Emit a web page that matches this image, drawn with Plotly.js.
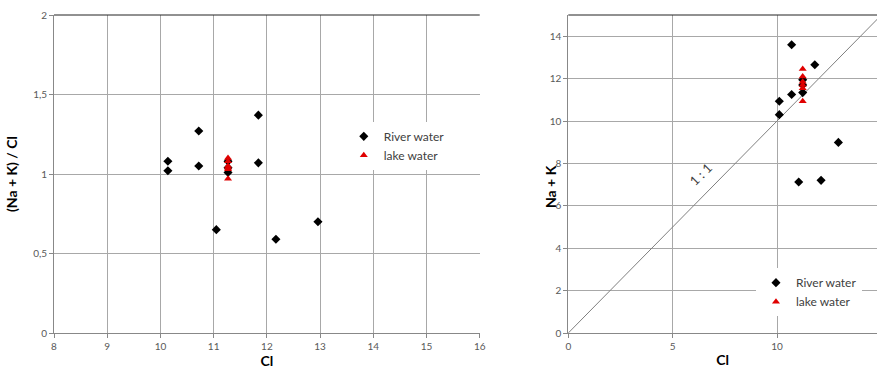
<!DOCTYPE html>
<html>
<head>
<meta charset="utf-8">
<script src="https://cdn.plot.ly/plotly-3.0.1.min.js"></script>
<style>html,body{margin:0;padding:0;background:#fff;}#chart{width:877px;height:370px;}</style>
</head>
<body>
<div id="chart"></div>
<script>
// Left panel: (Na+K)/Cl vs Cl
const leftRiverCl    = [10.14, 10.14, 10.72, 10.72, 11.84, 11.84, 11.05, 12.17, 12.96, 11.27, 11.27, 11.27];
const leftRiverRatio = [1.08, 1.02, 1.27, 1.05, 1.37, 1.07, 0.65, 0.59, 0.70, 1.01, 1.04, 1.08];
const leftLakeCl     = [11.27, 11.27, 11.27, 11.27, 11.27, 11.27];
const leftLakeRatio  = [0.97, 1.03, 1.04, 1.05, 1.08, 1.10];

// Right panel: Na+K vs Cl
const rightRiverCl   = [10.70, 11.81, 10.11, 10.11, 10.70, 11.23, 11.23, 11.23, 12.94, 11.04, 12.11];
const rightRiverNaK  = [13.60, 12.65, 10.93, 10.30, 11.25, 11.34, 11.70, 11.94, 8.99, 7.12, 7.20];
const rightLakeCl    = [11.23, 11.23, 11.23, 11.23, 11.23, 11.23];
const rightLakeNaK   = [10.93, 11.55, 11.70, 11.85, 12.10, 12.45];

// 1:1 reference line
const oneToOne = [0, 15];

const seriesNames = ['River water', 'lake water'];
const FONT = 'Lato, "Open Sans", sans-serif';

const riverMarker = {symbol: 'diamond', size: 7, color: '#000000'};
const lakeMarker  = {symbol: 'triangle-up', size: 7, color: '#e00000'};

const traces = [
  {x: leftRiverCl, y: leftRiverRatio, type: 'scatter', mode: 'markers', name: seriesNames[0],
   marker: riverMarker, xaxis: 'x', yaxis: 'y', legend: 'legend'},
  {x: leftLakeCl, y: leftLakeRatio, type: 'scatter', mode: 'markers', name: seriesNames[1],
   marker: lakeMarker, xaxis: 'x', yaxis: 'y', legend: 'legend'},
  {x: oneToOne, y: oneToOne, type: 'scatter', mode: 'lines', showlegend: false,
   line: {color: '#7f7f7f', width: 1}, xaxis: 'x2', yaxis: 'y2', hoverinfo: 'skip'},
  {x: rightRiverCl, y: rightRiverNaK, type: 'scatter', mode: 'markers', name: seriesNames[0],
   marker: riverMarker, xaxis: 'x2', yaxis: 'y2', legend: 'legend2'},
  {x: rightLakeCl, y: rightLakeNaK, type: 'scatter', mode: 'markers', name: seriesNames[1],
   marker: lakeMarker, xaxis: 'x2', yaxis: 'y2', legend: 'legend2'}
];

const tickFont = {family: FONT, size: 10, color: '#595959'};
const titleFont = {family: FONT, size: 14, color: '#000000', weight: 'bold'};
const gridC = '#a8a8a8';

const layout = {
  width: 877, height: 370,
  margin: {l: 0, r: 0, t: 15, b: 37},
  paper_bgcolor: '#ffffff', plot_bgcolor: '#ffffff',
  separators: ', ',
  font: {family: FONT},
  xaxis: {domain: [0.0616, 0.547], range: [8, 16], dtick: 1, tick0: 8,
    showgrid: true, gridcolor: gridC, zeroline: false,
    showline: true, linecolor: '#888888', linewidth: 1,
    ticks: 'outside', ticklen: 4, tickcolor: '#888888', tickfont: tickFont,
    title: {text: 'Cl', font: titleFont, standoff: 4}, automargin: false},
  yaxis: {domain: [0, 1], range: [0, 2], dtick: 0.5, tick0: 0,
    showgrid: true, gridcolor: gridC, zeroline: false,
    showline: true, linecolor: '#888888', linewidth: 1,
    ticks: 'outside', ticklen: 4, tickcolor: '#888888', tickfont: tickFont,
    title: {text: '(Na + K) / Cl', font: titleFont, standoff: 12}, automargin: false},
  xaxis2: {domain: [0.648, 1], range: [0, 14.79], dtick: 5, tick0: 0, anchor: 'y2',
    showgrid: true, gridcolor: gridC, zeroline: false,
    showline: true, linecolor: '#888888', linewidth: 1,
    ticks: 'outside', ticklen: 4, tickcolor: '#888888', tickfont: tickFont,
    title: {text: 'Cl', font: titleFont, standoff: 4}, automargin: false},
  yaxis2: {domain: [0, 1], range: [0, 15], dtick: 2, tick0: 0, anchor: 'x2',
    showgrid: true, gridcolor: gridC, zeroline: false,
    showline: true, linecolor: '#888888', linewidth: 1,
    ticks: 'outside', ticklen: 4, tickcolor: '#888888', tickfont: tickFont,
    automargin: false},
  legend: {x: 0.392, y: 0.664, xanchor: 'left', yanchor: 'top', bgcolor: '#ffffff',
    font: {family: FONT, size: 12, color: '#404040'}, itemwidth: 30},
  legend2: {x: 0.862, y: 0.204, xanchor: 'left', yanchor: 'top', bgcolor: '#ffffff',
    font: {family: FONT, size: 12, color: '#404040'}, itemwidth: 30},
  annotations: [
    {xref: 'x2', yref: 'y2', x: 6.35, y: 7.5, text: '1 : 1', showarrow: false, textangle: -45,
     font: {family: FONT, size: 13, color: '#404040'}},
    {xref: 'paper', yref: 'paper', x: 550/877, y: (333 - 187) / 318, text: '<b>Na + K</b>',
     showarrow: false, textangle: -90, font: titleFont}
  ],
  shapes: [
    {type: 'line', xref: 'x domain', yref: 'y domain', x0: 0, x1: 1, y0: 1, y1: 1,
     line: {color: '#222222', width: 1}},
    {type: 'line', xref: 'x2 domain', yref: 'y2 domain', x0: 0, x1: 1, y0: 1, y1: 1,
     line: {color: '#222222', width: 1}}
  ]
};

Plotly.newPlot('chart', traces, layout, {displayModeBar: false, staticPlot: true});
</script>
</body>
</html>
